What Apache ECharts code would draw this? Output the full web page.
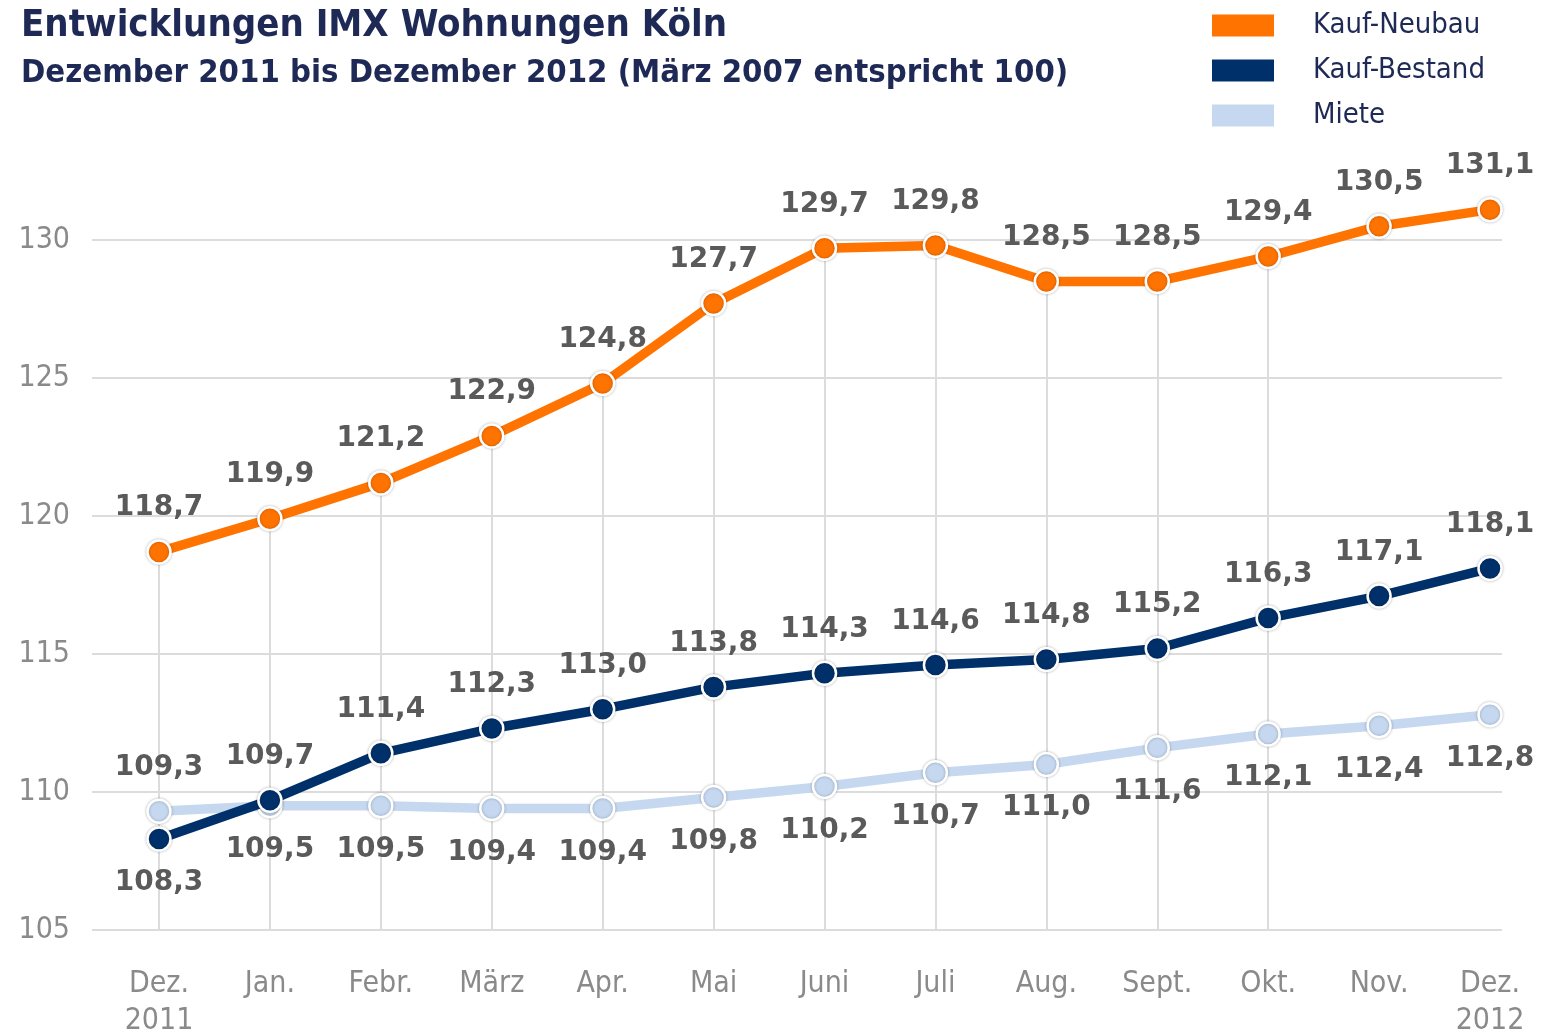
<!DOCTYPE html>
<html>
<head>
<meta charset="utf-8">
<script src="https://cdn.jsdelivr.net/npm/echarts@6/dist/echarts.min.js"></script>
<style>
html,body{margin:0;padding:0;background:#fff;}
#main{width:1555px;height:1035px;}
</style>
</head>
<body>
<div id="main"></div>
<script>
// Werte IMX Köln, Dez. 2011 bis Dez. 2012
var monate = ['Dez.\n2011','Jan.','Febr.','März','Apr.','Mai','Juni','Juli','Aug.','Sept.','Okt.','Nov.','Dez.\n2012'];
var kaufNeubau = [118.7,119.9,121.2,122.9,124.8,127.7,129.7,129.8,128.5,128.5,129.4,130.5,131.1];
var kaufBestand = [108.3,109.7,111.4,112.3,113.0,113.8,114.3,114.6,114.8,115.2,116.3,117.1,118.1];
var miete = [109.3,109.5,109.5,109.4,109.4,109.8,110.2,110.7,111.0,111.6,112.1,112.4,112.8];
var yTicks = [105,110,115,120,125,130];

var navy = '#1e2a55';
var labelFont = 'DejaVu Sans';
var axisFont = 'DejaVu Sans Condensed';

function fmt(v){ return v.toFixed(1).replace('.', ','); }

// label oben oder unten je nach Punkt
function pts(values, below){
  return values.map(function(v,i){
    return {value:v, label:{position: below(i) ? 'bottom' : 'top'}};
  });
}

var lblStyle = {
  show:true,
  fontFamily:labelFont,
  fontWeight:'bold',
  fontSize:28,
  color:'#5a5a5a',
  distance:17,
  formatter:function(p){ return fmt(p.value); }
};

function serie(name, color, data, z){
  return {
    name:name,
    type:'line',
    xAxisIndex:1,
    yAxisIndex:1,
    data:data,
    clip:false,
    z:z,
    symbol:'circle',
    symbolSize:23,
    lineStyle:{color:color,width:9.5},
    itemStyle:{color:color,borderColor:'#fff',borderWidth:2.5,shadowColor:'rgba(0,0,0,0.25)',shadowBlur:3},
    label:lblStyle
  };
}

var chart = echarts.init(document.getElementById('main'));

var neubauSerie = serie('Kauf-Neubau','#ff7300',pts(kaufNeubau,function(){return false;}),5);
neubauSerie.markLine = {
  silent:true,
  symbol:'none',
  label:{show:false},
  lineStyle:{color:'#dcdcdc',width:2,type:'solid'},
  z:1,
  data:kaufNeubau.map(function(v,i){ return [{coord:[i,yTicks[0]]},{coord:[i,v]}]; })
};

var option = {
  animation:false,
  backgroundColor:'#fff',
  title:{
    left:16,
    top:2,
    text:'Entwicklungen IMX Wohnungen Köln',
    subtext:'Dezember 2011 bis Dezember 2012 (März 2007 entspricht 100)',
    itemGap:12,
    textStyle:{fontFamily:axisFont,fontWeight:'bold',fontSize:38,color:navy},
    subtextStyle:{fontFamily:axisFont,fontWeight:'bold',fontSize:32.6,color:navy}
  },
  legend:{
    orient:'vertical',
    left:1210,
    top:11,
    padding:0,
    icon:'rect',
    itemWidth:64,
    itemHeight:24,
    itemGap:16,
    textStyle:{fontFamily:axisFont,fontSize:29,color:navy,padding:[0,0,0,33]},
    data:['Kauf-Neubau','Kauf-Bestand','Miete']
  },
  grid:[
    {left:92,right:53,top:240,bottom:105,outerBoundsMode:'none'},
    {left:159,right:65,top:240,bottom:105,outerBoundsMode:'none'}
  ],
  xAxis:[
    {gridIndex:0,type:'value',min:0,max:1,show:false},
    {
      gridIndex:1,
      type:'category',
      boundaryGap:false,
      data:monate,
      axisLine:{show:false},
      axisTick:{show:false},
      splitLine:{show:false},
      axisLabel:{
        margin:36,
        fontFamily:axisFont,
        fontSize:30,
        lineHeight:37,
        color:'#8a8a8a',
        interval:0
      }
    }
  ],
  yAxis:[
    {
      gridIndex:0,
      type:'value',
      min:yTicks[0],
      max:yTicks[yTicks.length-1],
      interval:5,
      axisLine:{show:false},
      axisTick:{show:false},
      splitLine:{lineStyle:{color:'#dcdcdc',width:2}},
      axisLabel:{margin:22,fontFamily:axisFont,fontSize:30,color:'#8a8a8a',padding:[12,0,0,0]}
    },
    {
      gridIndex:1,
      type:'value',
      min:yTicks[0],
      max:yTicks[yTicks.length-1],
      interval:5,
      show:false,
      splitLine:{show:false}
    }
  ],
  series:[
    neubauSerie,
    serie('Kauf-Bestand','#00306a',pts(kaufBestand,function(i){return i===0;}),4),
    serie('Miete','#c5d8f0',pts(miete,function(i){return i!==0;}),3)
  ]
};

chart.setOption(option);
</script>
</body>
</html>
